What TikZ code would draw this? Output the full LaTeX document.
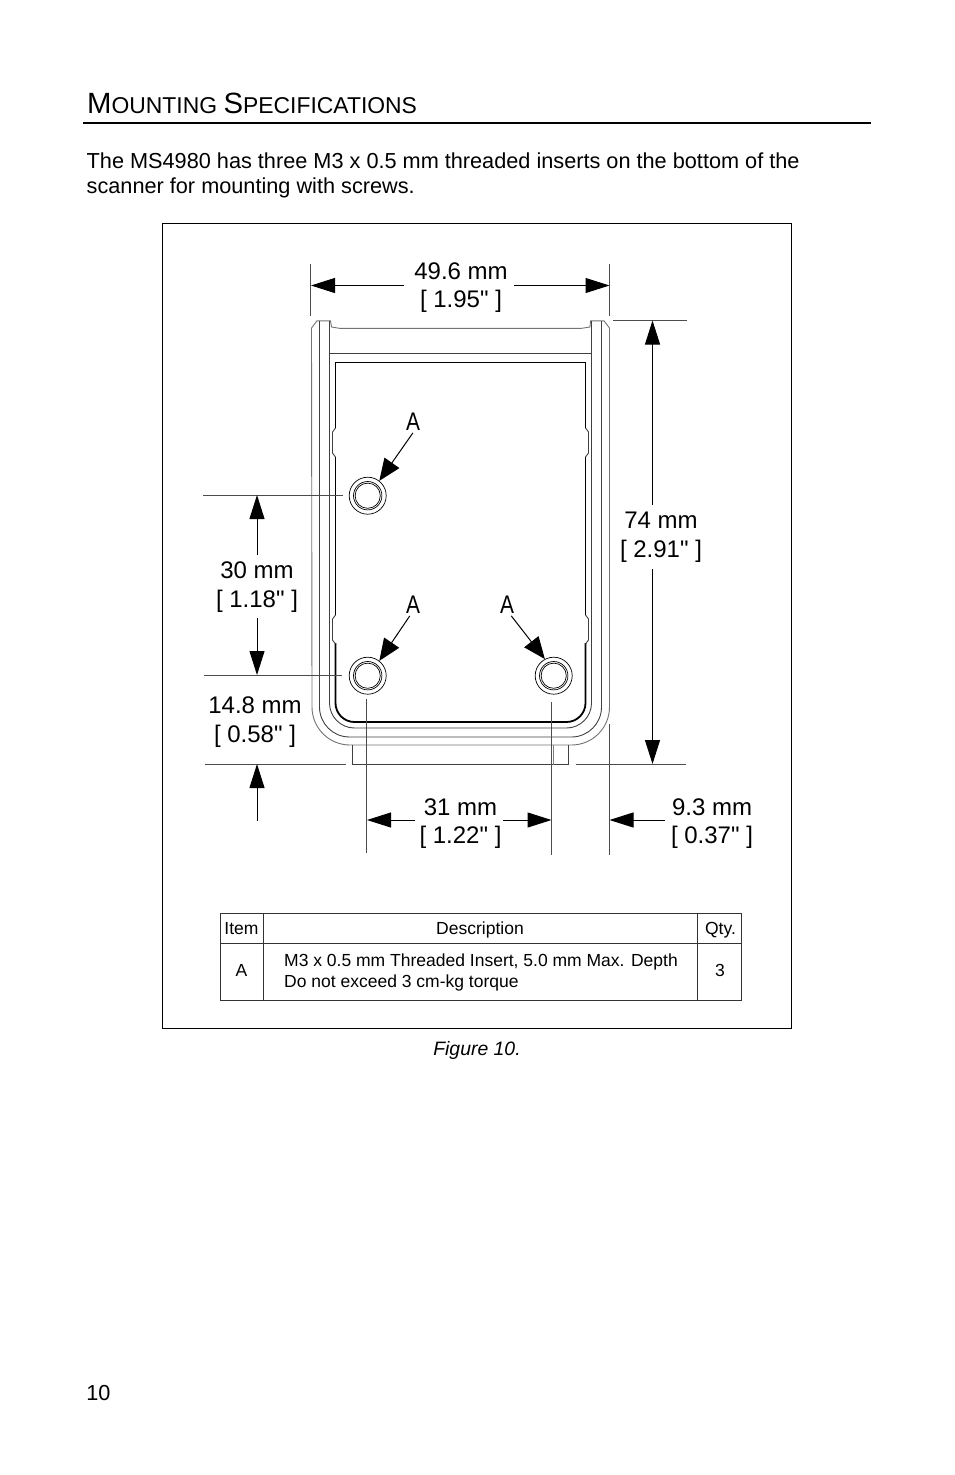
\documentclass[tikz,border=0pt]{standalone}
\usepackage{fontspec}
\setmainfont[Ligatures=TeXOff]{Liberation Sans}
\usetikzlibrary{arrows.meta}
\usetikzlibrary{positioning}
\tikzset{
  dimtext/.style={font=\fontsize{24}{28.5}\selectfont, align=center, inner sep=0pt},
  bodytext/.style={font=\fontsize{21.7}{25}\selectfont, align=left, inner sep=0pt},
  celltext/.style={font=\fontsize{17.5}{21}\selectfont, align=left, inner sep=0pt},
  calltext/.style={font=\fontsize{25.5}{27}\selectfont, inner sep=0pt},
  dimarrow/.style={-{Triangle[length=24pt,width=15pt]}, line width=1pt},
  callout/.style={-{Triangle[length=22pt,width=18pt]}, line width=1pt, shorten <=3pt},
  extline/.style={line width=0.8pt, black!70},
  outline/.style={line width=0.9pt, black!75},
  hole/.style={circle, draw, line width=0.7pt, minimum size=37pt, inner sep=0pt},
}
\begin{document}
\begin{tikzpicture}[x=1pt, y=-1pt]
  \useasboundingbox (0,0) rectangle (954,1475);
  % page text
  \node[anchor=base west, inner sep=0pt] (title) at (87,113)
    {\fontsize{29.3}{30}\selectfont M\fontsize{22.9}{30}\selectfont OUNTING \fontsize{29.3}{30}\selectfont S\fontsize{22.9}{30}\selectfont PECIFICATIONS};
  \coordinate (rulel) at (83,123);
  \coordinate (ruler) at (871,123);
  \draw[line width=2pt] (rulel) -- (ruler);
  \node[bodytext, anchor=north west] (intro) at (86.5,153)
    {The MS4980 has three M3 x 0.5 mm threaded inserts on the bottom of the\\scanner for mounting with screws.};
  \node[font=\fontsize{19.4}{22}\selectfont\itshape, inner sep=0pt] (figcap) at (477,1050) {Figure 10.};
  \node[font=\fontsize{21.7}{24}\selectfont, inner sep=0pt] (pagenum) at (98.5,1393) {10};
  \draw[line width=0.9pt] (162.5,223) rectangle (791.5,1028);

  % scanner body
  \draw[outline, black!55] (352,745) -- (350,745) arc[start angle=90, end angle=180, radius=38] -- (311.5,328) -- (317,320.8) -- (330.5,320.8) -- (331.5,327) -- (340,328.4)
    -- (581,328.4) -- (590,327) -- (590.5,320.8) -- (604,320.8) -- (609.5,328) -- (609.5,707) arc[start angle=0, end angle=90, radius=38] -- (569,745) -- cycle;
  \draw[outline] (319.5,321) -- (319.5,707) arc[start angle=180, end angle=90, radius=30] -- (571.5,737) arc[start angle=90, end angle=0, radius=30] -- (601.5,321);
  \draw[outline] (329.5,321) -- (329.5,703) arc[start angle=180, end angle=90, radius=25] -- (566.5,728) arc[start angle=90, end angle=0, radius=25] -- (591.5,321);
  \draw[outline] (329.5,353.3) -- (591.5,353.3);
  \draw[line width=1.8pt] (335.5,428) -- (335.5,362.5) -- (585.5,362.5) -- (585.5,428);
  \draw[line width=1.8pt] (335.5,457) -- (335.5,615);
  \draw[line width=1.8pt] (585.5,457) -- (585.5,615);
  \draw[line width=1.8pt] (335.5,643) -- (335.5,703) arc[start angle=180, end angle=90, radius=19] -- (566.5,722) arc[start angle=90, end angle=0, radius=19] -- (585.5,643);
  \foreach \y in {428,615} {
    \draw[outline] (335.5,\y) -- (332.5,\y+4) -- (332.5,\y+25) -- (335.5,\y+29);
    \draw[outline] (585.5,\y) -- (588.5,\y+4) -- (588.5,\y+25) -- (585.5,\y+29);
  }
  \draw[outline] (352.5,745) -- (352.5,764.5) -- (568.5,764.5) -- (568.5,745);
  \draw[line width=0.5pt, black!50] (553.5,745) -- (553.5,764.5);

  % holes
  \foreach \name/\x/\y in {holetop/367.7/495.7, holeleft/367.7/675.7, holeright/553.7/675.7} {
    \node[hole] (\name) at (\x,\y) {};
    \draw[line width=0.7pt] (\x,\y) circle[radius=14.2];
    \draw[line width=0.7pt] (\x,\y) circle[radius=12.6];
  }
  \node[calltext] (atop) at (413,421.5) {\scalebox{.82}[1]{A}};
  \node[calltext] (aleft) at (413,604.5) {\scalebox{.82}[1]{A}};
  \node[calltext] (aright) at (507,604.5) {\scalebox{.82}[1]{A}};
  \draw[callout] (atop.-80) -- (holetop.52);
  \draw[callout] (aleft.-100) -- (holeleft.52);
  \draw[callout] (aright.-75) -- (holeright.118);

  % dimensions
  \node[dimtext] (width) at (461,287.5) {49.6 mm\\{[} 1.95" ]};
  \coordinate (widthl) at (311,285.5);
  \coordinate (widthr) at (609.5,285.5);
  \draw[extline] (310.5,264) -- (310.5,316);
  \draw[extline] (609.5,264) -- (609.5,316);
  \draw[dimarrow] (404,285.5) -- (widthl);
  \draw[dimarrow] (514,285.5) -- (widthr);

  \node[dimtext] (height) at (661,537) {74 mm\\{[} 2.91" ]};
  \coordinate (heightt) at (652.5,320.5);
  \coordinate (heightb) at (652.5,764);
  \draw[extline] (613,320) -- (687,320);
  \draw[extline] (576,764.5) -- (686,764.5);
  \draw[dimarrow] (652.5,505) -- (heightt);
  \draw[dimarrow] (652.5,569) -- (heightb);

  \node[dimtext] (rowgap) at (257,587) {30 mm\\{[} 1.18" ]};
  \coordinate (rowgapt) at (257,495);
  \coordinate (rowgapb) at (257,675);
  \draw[extline] (203,495) -- (343,495);
  \draw[extline] (204,675) -- (342,675);
  \draw[dimarrow] (257,555) -- (rowgapt);
  \draw[dimarrow] (257,618) -- (rowgapb);

  \node[dimtext] (edgey) at (255,722) {14.8 mm\\{[} 0.58" ]};
  \coordinate (edgeyt) at (257,764);
  \draw[extline] (205,764) -- (346,764);
  \draw[dimarrow] (257,821) -- (edgeyt);

  \node[dimtext] (colgap) at (460.5,823.5) {31 mm\\{[} 1.22" ]};
  \coordinate (colgapl) at (367,820);
  \coordinate (colgapr) at (551.5,820);
  \draw[extline] (366.5,699) -- (366.5,853);
  \draw[extline] (551.5,702) -- (551.5,855);
  \draw[dimarrow] (415,820) -- (colgapl);
  \draw[dimarrow] (503,820) -- (colgapr);

  \node[dimtext] (edgex) at (712,823.5) {9.3 mm\\{[} 0.37" ]};
  \coordinate (edgexl) at (609.5,820);
  \draw[extline] (609.5,724) -- (609.5,855);
  \draw[dimarrow] (665,820) -- (edgexl);

  % parts table
  \draw[line width=0.8pt, black!80] (220,913) rectangle (741.5,1000);
  \draw[line width=0.8pt, black!80] (220,943) -- (741.5,943);
  \draw[line width=0.8pt, black!80] (263.5,913) -- (263.5,1000);
  \draw[line width=0.8pt, black!80] (697,913) -- (697,1000);
  \node[celltext, anchor=base] (itemhead) at (241.5,934) {Item};
  \node[celltext, anchor=base] (deschead) at (480,934) {Description};
  \node[celltext, anchor=base] (qtyhead) at (720.5,934) {Qty.};
  \node[celltext, anchor=base] (itemcell) at (241.5,976) {A};
  \node[celltext, anchor=west] (desccell) at (284,972) {M3 x 0.5 mm Threaded Insert, 5.0 mm Max. Depth\\Do not exceed 3 cm-kg torque};
  \node[celltext, anchor=base] (qtycell) at (720,976) {3};
\end{tikzpicture}
\end{document}
